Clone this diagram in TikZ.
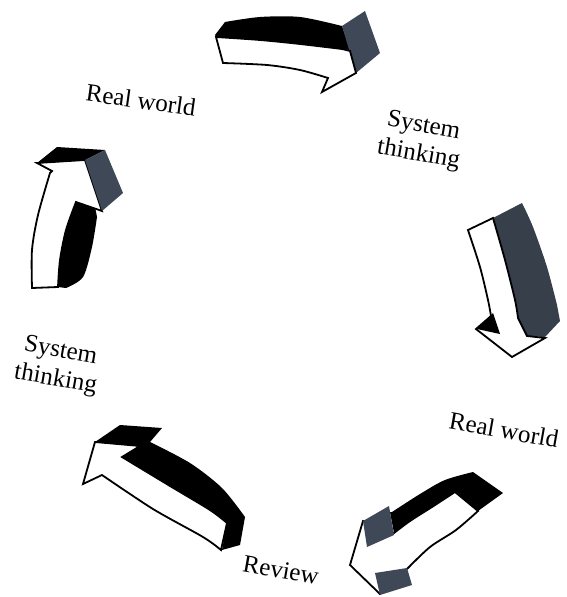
\documentclass[tikz,border=0pt]{standalone}
\usepackage{fontspec}
\setmainfont{Liberation Serif}
\definecolor{boxgray}{RGB}{62,72,86}
\definecolor{bandgray}{RGB}{55,63,75}
\tikzset{
  face/.style={fill=white,draw=black,line width=1.8pt,line join=miter},
  side/.style={fill=black},
  box/.style={fill=boxgray},
  lbl/.style={font=\fontsize{25}{29}\selectfont,inner sep=0pt,align=center}
}
\begin{document}
\begin{tikzpicture}[x=1pt,y=-1pt]
\useasboundingbox (0,0) rectangle (566,597);
% ---------- arrow 1 (top) ----------
\fill[side] (215,35) -- plot[smooth] coordinates {(225,22) (260,17) (300,17) (342,26)} -- (350,50)
  -- plot[smooth] coordinates {(342,49) (300,44) (260,40) (216,37)} -- cycle;
\fill[box] (342,26) -- (365,11) -- (380,53) -- (356,73) -- cycle;
\draw[face] plot[smooth] coordinates {(216,37) (260,40) (300,44) (342,49)} -- (350,51) -- (356,73)
  -- (322,92) -- (328,78) -- plot[smooth] coordinates {(328,78) (300,70) (267,65) (223,63)} -- cycle;
% ---------- arrow 2 (right) ----------
\fill[bandgray] (493,218) -- plot[smooth] coordinates {(522,203) (533,227) (547,267) (557,305)} -- (560,321)
  -- (545,337) -- (526,336) -- plot[smooth] coordinates {(518,318) (515,300) (505,260) (493,218)} -- cycle;
\draw[face] (468,230) -- (493,218) -- plot[smooth] coordinates {(493,218) (505,260) (515,300) (518,318)}
  -- (527,336) -- (545,338) -- (512,357) -- (476,329) -- (491,316)
  -- plot[smooth] coordinates {(491,316) (488,300) (480,267) (468,230)} -- cycle;
\fill[side] (477,329) -- (493,313) -- (500,334) -- cycle;
% ---------- arrow 3 (bottom right) ----------
\fill[side] (473,472) -- (503,493) -- (478,511) -- (455,492)
  -- plot[smooth] coordinates {(455,492) (432,507) (410,521) (394,533)} -- (390,512)
  -- plot[smooth] coordinates {(392,512) (420,494) (445,480) (473,472)} -- cycle;
\draw[face] (455,492) -- (478,511) -- plot[smooth] coordinates {(478,511) (456,530) (430,547) (408,568)}
  -- (380,594) -- (350,565) -- (363,521) -- (394,533)
  -- plot[smooth] coordinates {(394,533) (410,521) (432,507) (455,492)} -- cycle;
\fill[box] (363,521) -- (389,506) -- (394,535) -- (367,547) -- cycle;
\fill[box] (375,573) -- (407,568) -- (412,585) -- (380,595) -- cycle;
% ---------- arrow 4 (bottom left) ----------
\fill[side] (95,442) -- (120,425) -- (162,428) -- (150,442)
  -- plot[smooth] coordinates {(150,442) (190,463) (222,488) (245,517)} -- (240,545) -- (222,550) -- (227,523)
  -- plot[smooth] coordinates {(227,523) (210,510) (170,486) (122,457)} -- (140,446) -- cycle;
\draw[face] (95,442) -- (140,446) -- (122,457) -- plot[smooth] coordinates {(122,457) (170,486) (210,510) (227,523)}
  -- (221,550) -- plot[smooth] coordinates {(221,550) (203,537) (153,509) (102,475)} -- (83,484) -- cycle;
% ---------- arrow 5 (left) ----------
\fill[side] (37,163) -- (57,147) -- (105,150) -- (85,160) -- cycle;
\fill[side] (73,203) -- (93,197) -- (97,217) -- plot[smooth] coordinates {(97,217) (92,247) (83,277) (66,288)}
  -- (58,287) -- plot[smooth] coordinates {(58,287) (62,247) (73,203)} -- cycle;
\draw[face] (37,163) -- (85,160) -- (102,211) -- (76,202)
  -- plot[smooth] coordinates {(76,202) (66,230) (60,260) (58,287)} -- (32,288)
  -- plot[smooth] coordinates {(32,288) (32,250) (38,215) (50,173)} -- (52,171) -- cycle;
\fill[box] (85,160) -- (105,150) -- (123,193) -- (102,211) -- cycle;
% ---------- labels ----------
\node[lbl,rotate=-8] (rw1) at (141,100) {Real world};
\node[lbl,rotate=-10] (st1) at (421,141) {System\\thinking};
\node[lbl,rotate=-10] (rw2) at (504,430) {Real world};
\node[lbl,rotate=-10] (rev) at (281,570) {Review};
\node[lbl,rotate=-10] (st2) at (58,366) {System\\thinking};
\end{tikzpicture}
\end{document}
